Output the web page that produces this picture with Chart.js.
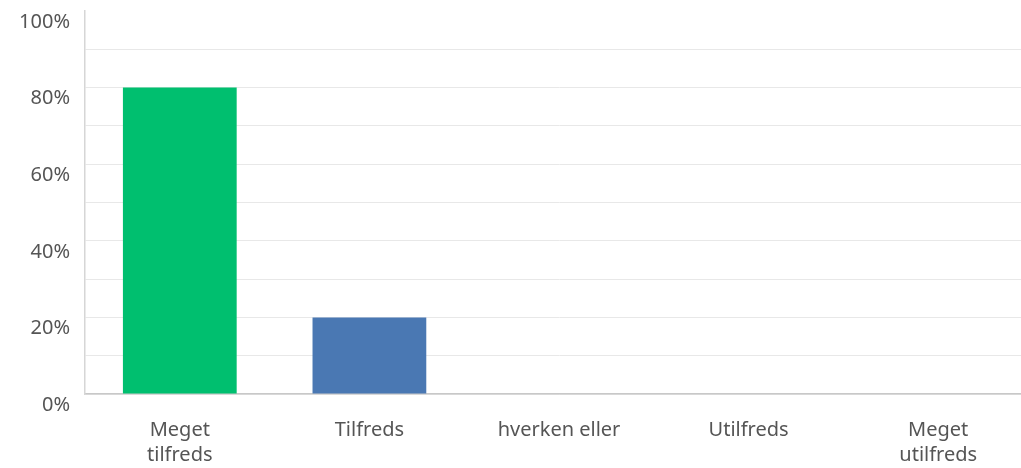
<!DOCTYPE html>
<html>
  <head>
    <script src="https://cdn.jsdelivr.net/npm/chart.js@4/dist/chart.umd.js"></script>
    <style>
      html, body { margin: 0; padding: 0; background: #fff; overflow: hidden; }
      #wrap { width: 1033px; height: 468px; position: relative; }
    </style>
  </head>
  <body>
    <div id="wrap">
      <canvas id="graph"></canvas>
    </div>
    <script>
      const categories = [['Meget', 'tilfreds'], 'Tilfreds', 'hverken eller', 'Utilfreds', ['Meget', 'utilfreds']];
      const shares = [80, 20, 0, 0, 0];
      const barColors = ['#00bf6f', '#4a78b3', '#00bf6f', '#00bf6f', '#00bf6f'];

      new Chart(document.getElementById('graph'), {
        type: 'bar',
        data: {
          labels: categories,
          datasets: [
            {
              data: shares,
              backgroundColor: barColors,
              barPercentage: 0.6,
              categoryPercentage: 1,
            },
          ],
        },
        options: {
          responsive: true,
          maintainAspectRatio: false,
          animation: false,
          layout: { padding: { top: 11, right: 0, bottom: 0, left: 0 } },
          plugins: { legend: { display: false }, tooltip: { enabled: false } },
          scales: {
            x: {
              grid: { display: false },
              border: { color: '#c8c8c8', width: 1.5 },
              ticks: {
                color: '#555',
                font: { family: 'Noto Sans', size: 20, lineHeight: 1.25 },
                padding: 16,
                maxRotation: 0,
              },
              afterFit: (s) => {
                s.height = 74;
                s.paddingLeft = 0;
                s.paddingRight = 0;
              },
            },
            y: {
              min: 0,
              max: 100,
              border: { color: '#d6d6d6', width: 1.5 },
              grid: {
                color: (c) => (c.tick && c.tick.value === 100 ? 'rgba(0,0,0,0)' : '#e8e8e8'),
                drawTicks: false,
              },
              ticks: {
                stepSize: 10,
                autoSkip: false,
                color: '#555',
                font: { family: 'Noto Sans', size: 20 },
                padding: 15,
                labelOffset: 11,
                callback: (v) => (v % 20 === 0 ? v + '%' : ''),
              },
              afterFit: (s) => {
                s.width = 85;
                s.paddingTop = 0;
                s.paddingBottom = 0;
              },
            },
          },
        },
      });
    </script>
  </body>
</html>
